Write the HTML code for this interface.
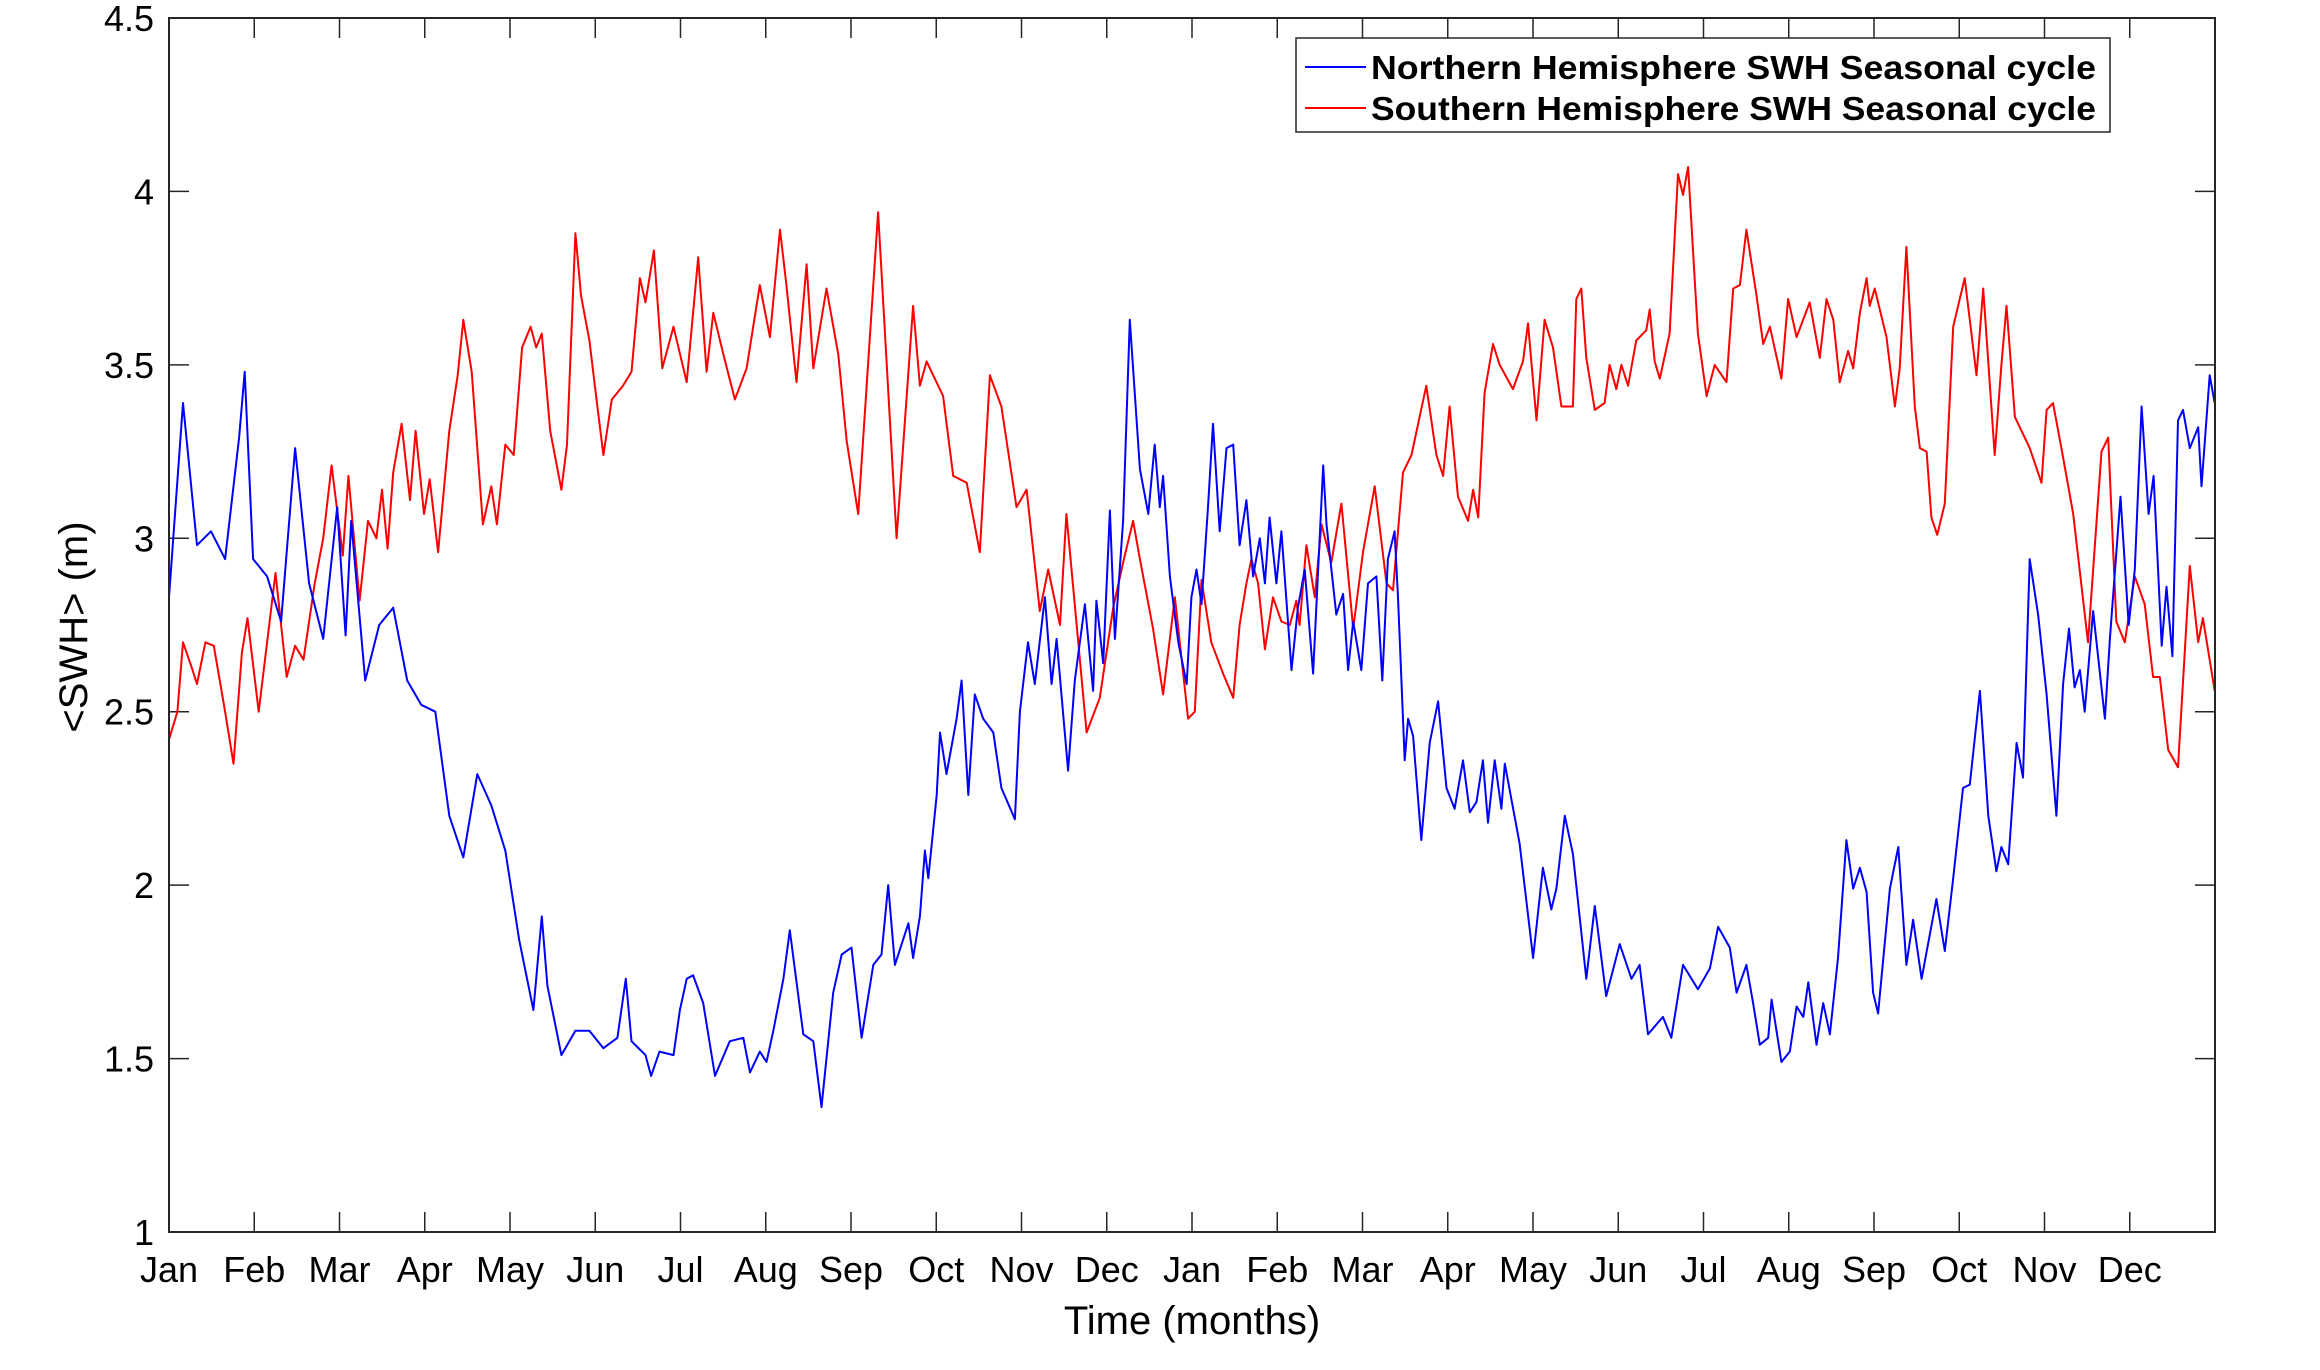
<!DOCTYPE html>
<html><head><meta charset="utf-8"><style>
html,body{margin:0;padding:0;background:#fff;}
svg{display:block;font-family:"Liberation Sans",Arial,sans-serif;}
</style></head><body>
<svg id="chart" width="2320" height="1370" viewBox="0 0 2320 1370" xmlns="http://www.w3.org/2000/svg">
<g id="plot"></g>
</svg>
<script>
const monthLabels = ["Jan","Feb","Mar","Apr","May","Jun","Jul","Aug","Sep","Oct","Nov","Dec","Jan","Feb","Mar","Apr","May","Jun","Jul","Aug","Sep","Oct","Nov","Dec"];
const yTicks = [1,1.5,2,2.5,3,3.5,4,4.5];
const yTickLabels = ["1","1.5","2","2.5","3","3.5","4","4.5"];
const nDays = [0,5,10,15,20,25,27,30,35,40,45,50,55,60,63,65,70,75,80,85,90,95,100,105,110,115,120,125,130,133,135,140,145,150,155,160,163,165,170,172,175,180,
182.3,184.7,187,190.6,194.8,200.1,204.9,207.3,210.8,213.2,215.6,219.2,221.5,226.3,229.9,232.8,237,240,243.5,247.1,251.3,254.2,256.6,259,263.8,265.5,267.9,269.7,270.9,273.9,275.1,277.4,281,282.8,285.2,287.5,290.5,294.1,297,301.8,303.6,306.5,308.9,312.5,314.9,316.7,320.8,323.2,326.8,329.7,330.9,333.3,335.7,337.5,340.4,342.8,346.4,349.4,351.7,353.5,354.7,357.1,360.1,363.1,
364.8,366.6,368.4,370.7,372.5,374.9,377.3,379.7,382,384.4,386.8,389.2,391,392.7,395.1,396.9,400.5,402.8,405.2,408.2,411.8,413,416.5,418.9,420.7,422.5,425.4,427.8,430.8,432.9,434.9,437.3,438.5,440.9,442.1,443.9,446.8,449.8,452.8,455.8,458.7,461.7,464.1,466.5,468.8,470.6,473,475.4,476.6,481.9,486.7,490.2,493.2,495,498,500.9,505.7,508.7,512.8,517.6,521.8,524.7,527.7,533,536,540.2,545.5,
549.8,552.7,556.9,559.3,562.8,565.2,567.6,570.6,571.8,575.3,578.3,580.7,583.1,584.9,587.8,590.2,592.6,595.5,598.5,600.9,603.3,605.7,608,609.8,614,617,619.9,622.3,625.3,630.6,633.6,636.6,640.1,642.5,646.1,649.1,652,653.8,656.2,659.2,661.5,663.9,666.9,669.9,673.4,675.8,677.9,679.9,681.8,683.5,686.5,690.7,692.5,696.3,699.2,701.4,703.8,706.3,708.1,711,712.7,714.8,716.8,718.6,721,724,725.2,728.1,729.9];
const nValues = [2.83,3.39,2.98,3.02,2.94,3.29,3.48,2.94,2.89,2.76,3.26,2.87,2.71,3.09,2.72,3.05,2.59,2.75,2.80,2.59,2.52,2.50,2.20,2.08,2.32,2.23,2.10,1.84,1.64,1.91,1.71,1.51,1.58,1.58,1.53,1.56,1.73,1.55,1.51,1.45,1.52,1.51,
1.64,1.73,1.74,1.66,1.45,1.55,1.56,1.46,1.52,1.49,1.58,1.73,1.87,1.57,1.55,1.36,1.69,1.80,1.82,1.56,1.77,1.80,2.00,1.77,1.89,1.79,1.91,2.10,2.02,2.26,2.44,2.32,2.48,2.59,2.26,2.55,2.48,2.44,2.28,2.19,2.50,2.70,2.58,2.83,2.58,2.71,2.33,2.59,2.81,2.56,2.82,2.64,3.08,2.71,3.05,3.63,3.20,3.07,3.27,3.09,3.18,2.89,2.70,2.58,
2.83,2.91,2.81,3.09,3.33,3.02,3.26,3.27,2.98,3.11,2.89,3.00,2.87,3.06,2.87,3.02,2.62,2.80,2.91,2.61,3.21,3.04,2.78,2.84,2.62,2.76,2.62,2.87,2.89,2.59,2.94,3.02,2.83,2.36,2.48,2.43,2.13,2.41,2.53,2.28,2.22,2.36,2.21,2.24,2.36,2.18,2.36,2.22,2.35,2.12,1.79,2.05,1.93,1.99,2.20,2.09,1.73,1.94,1.68,1.83,1.73,1.77,1.57,1.62,1.56,1.77,1.70,
1.76,1.88,1.82,1.69,1.77,1.66,1.54,1.56,1.67,1.49,1.52,1.65,1.62,1.72,1.54,1.66,1.57,1.79,2.13,1.99,2.05,1.98,1.69,1.63,1.99,2.11,1.77,1.90,1.73,1.96,1.81,2.02,2.28,2.29,2.56,2.20,2.04,2.11,2.06,2.41,2.31,2.94,2.78,2.55,2.20,2.58,2.74,2.57,2.62,2.50,2.79,2.48,2.71,3.12,2.75,2.91,3.38,3.07,3.18,2.69,2.86,2.66,3.34,3.37,3.26,3.32,3.15,3.47,3.39];
const sDays = [0,3,5,8,10,13,16,20,23,26,28,32,35,38,42,45,48,52,55,58,62,64,68,71,74,76,78,80,83,86,88,91,93,96,100,103,105,108,112,115,117,120,123,126,129,131,133,136,140,142,145,147,150,153,155,158,162,165,168,170,173,176,180,
184.7,188.8,191.8,194.2,197.8,201.9,206.1,210.8,214.4,218,220.3,223.9,227.5,229.9,234.6,238.8,241.8,245.9,253,259.6,265.5,267.9,270.3,276.2,279.8,284.6,289.3,292.9,297,302.4,306,310.7,313.7,317.9,320.2,327.4,332.1,336.9,340.4,344,346.4,351.1,354.7,358.9,363.6,
366,368.4,371.9,376.1,379.7,382,384.4,386.2,388.6,391,393.9,396.9,399.9,402.2,403.4,405.8,408.8,411.2,414.7,418.3,422.5,426,430.2,434.4,436.7,440.3,443.3,446.2,448.6,452.2,454.6,456.9,459.9,463.5,465.3,467.1,469.4,472.4,474.8,479.5,483.1,484.9,487.9,490.8,493.8,496.8,500.9,502.1,503.9,505.7,508.7,512.2,514,516.4,518.2,520.6,523.5,527.1,528.3,530.1,531.9,535.4,538.4,540.2,542,545.5,
548.6,551.5,555.7,558.1,560.5,562.8,566.4,568.8,571.2,575.3,577.7,580.7,585.4,589,591.4,593.8,596.1,599.1,600.9,603.3,605.7,606.8,608.6,612.8,615.8,617.5,619.9,622.9,624.7,627.1,628.8,630.9,633.6,636.6,640.7,644.9,647.3,651.4,653.8,655.6,658.6,663.9,668.1,669.9,672.2,675.2,679.4,684.7,689.5,691.9,694.8,697.8,701.4,704.9,707.9,710.3,713.3,716.8,721,724,725.7,729.9];
const sValues = [2.42,2.50,2.70,2.63,2.58,2.70,2.69,2.50,2.35,2.67,2.77,2.50,2.70,2.90,2.60,2.69,2.65,2.87,3.00,3.21,2.95,3.18,2.82,3.05,3.00,3.14,2.97,3.19,3.33,3.11,3.31,3.07,3.17,2.96,3.31,3.47,3.63,3.48,3.04,3.15,3.04,3.27,3.24,3.55,3.61,3.55,3.59,3.31,3.14,3.27,3.88,3.70,3.57,3.37,3.24,3.40,3.44,3.48,3.75,3.68,3.83,3.49,3.61,
3.45,3.81,3.48,3.65,3.53,3.40,3.49,3.73,3.58,3.89,3.73,3.45,3.79,3.49,3.72,3.53,3.28,3.07,3.94,3.00,3.67,3.44,3.51,3.41,3.18,3.16,2.96,3.47,3.38,3.09,3.14,2.79,2.91,2.75,3.07,2.44,2.54,2.80,2.93,3.05,2.94,2.74,2.55,2.83,2.48,
2.50,2.88,2.70,2.61,2.54,2.75,2.87,2.94,2.87,2.68,2.83,2.76,2.75,2.82,2.75,2.98,2.83,3.04,2.93,3.10,2.74,2.96,3.15,2.87,2.85,3.19,3.24,3.35,3.44,3.24,3.18,3.38,3.12,3.05,3.14,3.06,3.42,3.56,3.50,3.43,3.51,3.62,3.34,3.63,3.55,3.38,3.38,3.69,3.72,3.52,3.37,3.39,3.50,3.43,3.50,3.44,3.57,3.60,3.66,3.51,3.46,3.59,4.05,3.99,4.07,3.59,
3.41,3.50,3.45,3.72,3.73,3.89,3.70,3.56,3.61,3.46,3.69,3.58,3.68,3.52,3.69,3.63,3.45,3.54,3.49,3.65,3.75,3.67,3.72,3.58,3.38,3.49,3.84,3.38,3.26,3.25,3.06,3.01,3.10,3.61,3.75,3.47,3.72,3.24,3.50,3.67,3.35,3.26,3.16,3.37,3.39,3.26,3.07,2.70,3.25,3.29,2.76,2.70,2.89,2.81,2.60,2.60,2.39,2.34,2.92,2.70,2.77,2.56];

const NS = "http://www.w3.org/2000/svg";
const X0 = 169, X1 = 2215, Y0 = 1232, Y1 = 18;
const TOTAL_DAYS = 730, DAYS_PER_MONTH = 730/24;
function xScale(d){ return X0 + d/TOTAL_DAYS*(X1-X0); }
function yScale(v){ return Y0 - (v-1)/3.5*(Y0-Y1); }
const g = document.getElementById('plot');
function mk(tag, attrs, parent){
  const e = document.createElementNS(NS, tag);
  for (const k in attrs) e.setAttribute(k, attrs[k]);
  (parent||g).appendChild(e);
  return e;
}

// axes ticks
const ticksG = mk('g', {});


monthLabels.forEach((m, i) => {
  const x = xScale(i*DAYS_PER_MONTH);
  if (i > 0) {
    mk('line', {x1:x, y1:Y0, x2:x, y2:Y0-20, stroke:'#262626', 'stroke-width':1.5}, ticksG);
    mk('line', {x1:x, y1:Y1, x2:x, y2:Y1+20, stroke:'#262626', 'stroke-width':1.5}, ticksG);
  }
  const t = mk('text', {x:x, y:1282, 'font-size':36, 'text-anchor':'middle', fill:'#000'});
  t.textContent = m;
  
  
});
yTicks.forEach((v, i) => {
  const y = yScale(v);
  if (i > 0 && i < yTicks.length-1) {
    mk('line', {x1:X0, y1:y, x2:X0+20, y2:y, stroke:'#262626', 'stroke-width':1.5}, ticksG);
    mk('line', {x1:X1, y1:y, x2:X1-20, y2:y, stroke:'#262626', 'stroke-width':1.5}, ticksG);
  }
  const t = mk('text', {x:154, y:y+13, 'font-size':36, 'text-anchor':'end', fill:'#000'});
  t.textContent = yTickLabels[i];
  
  
});

function series(days, vals, color, name){
  let d = '';
  days.forEach((dd, i) => { d += (i ? 'L' : 'M') + xScale(dd).toFixed(1) + ' ' + yScale(vals[i]).toFixed(1); });
  const p = mk('path', {d:d, fill:'none', stroke:color, 'stroke-width':2, 'stroke-linejoin':'round'});
  
  
}
series(sDays, sValues, '#ff0000', 'southern-hemisphere-line');
series(nDays, nValues, '#0000ff', 'northern-hemisphere-line');

// frame
const frame = mk('rect', {x:X0, y:Y1, width:X1-X0, height:Y0-Y1, fill:'none', stroke:'#262626', 'stroke-width':2});



// axis titles
const xt = mk('text', {x:1192, y:1334, 'font-size':40, 'text-anchor':'middle', fill:'#000'});
xt.textContent = 'Time (months)';


const yt = mk('text', {x:0, y:0, 'font-size':40, 'text-anchor':'middle', fill:'#000', transform:'translate(87,627) rotate(-90)'});
yt.textContent = '<SWH> (m)';



// legend
const lg = mk('g', {});


mk('rect', {x:1296, y:38, width:814, height:94, fill:'#fff', stroke:'#262626', 'stroke-width':1.5}, lg);
const entries = [['Northern Hemisphere SWH Seasonal cycle','#0000ff',67,'legend-entry-northern'],['Southern Hemisphere SWH Seasonal cycle','#ff0000',108,'legend-entry-southern']];
entries.forEach(en => {
  const eg = mk('g', {}, lg);
  
  
  mk('line', {x1:1305, y1:en[2], x2:1366, y2:en[2], stroke:en[1], 'stroke-width':2}, eg);
  const t = mk('text', {x:1371, y:en[2]+12, 'font-size':33, 'font-weight':'bold', fill:'#000', textLength:725, lengthAdjust:'spacingAndGlyphs'}, eg);
  t.textContent = en[0];
});
</script>
</body></html>
